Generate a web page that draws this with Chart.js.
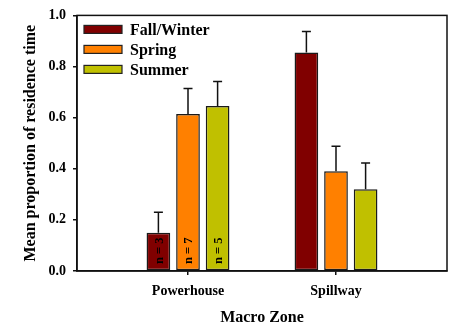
<!DOCTYPE html>
<html>
<head>
<meta charset="utf-8">
<script src="https://cdn.jsdelivr.net/npm/chart.js@4/dist/chart.umd.min.js"></script>
<style>
  html, body { margin: 0; padding: 0; background: #ffffff; }
  canvas { display: block; }
</style>
</head>
<body>
<canvas id="c" width="450" height="328"></canvas>
<script>
// ---- data ----
const zones = ['Powerhouse', 'Spillway'];
const zonePositions = [1, 2];
const seriesNames = ['Fall/Winter', 'Spring', 'Summer'];
const fallWinter = [0.15, 0.855];
const fallWinterErr = [0.08, 0.082];
const spring = [0.614, 0.39];
const springErr = [0.10, 0.098];
const summer = [0.646, 0.32];
const summerErr = [0.095, 0.103];
const powerhouseN = [3, 7, 5];
const yTicks = [0, 0.2, 0.4, 0.6, 0.8, 1.0];

const colors = ['#800000', '#ff8000', '#c0c000'];
const FONT = "'Liberation Serif', 'Times New Roman', serif";

const seriesVals = [fallWinter, spring, summer];
const seriesErrs = [fallWinterErr, springErr, summerErr];

const datasets = seriesNames.map((name, s) => ({
  label: name,
  data: zonePositions.map((x, i) => ({ x: x, y: seriesVals[s][i] })),
  errors: seriesErrs[s],
  backgroundColor: colors[s],
  borderColor: '#1a1a1a',
  borderWidth: 1.5,
  borderSkipped: false,
  categoryPercentage: 0.6,
  barPercentage: 0.8
}));

const extras = {
  id: 'extras',
  afterDatasetsDraw(chart) {
    const ctx = chart.ctx;
    const y = chart.scales.y;
    // error bars
    ctx.save();
    ctx.strokeStyle = '#111';
    ctx.lineWidth = 1.5;
    chart.data.datasets.forEach((ds, di) => {
      const meta = chart.getDatasetMeta(di);
      meta.data.forEach((bar, i) => {
        const v = ds.data[i].y;
        const top = y.getPixelForValue(v + ds.errors[i]);
        ctx.beginPath();
        ctx.moveTo(bar.x, bar.y);
        ctx.lineTo(bar.x, top);
        ctx.moveTo(bar.x - 4.5, top);
        ctx.lineTo(bar.x + 4.5, top);
        ctx.stroke();
      });
    });
    // n labels in Powerhouse bars
    ctx.fillStyle = '#000';
    ctx.font = 'bold 12.5px ' + FONT;
    ctx.textAlign = 'left';
    ctx.textBaseline = 'middle';
    chart.data.datasets.forEach((ds, di) => {
      const bar = chart.getDatasetMeta(di).data[0];
      ctx.save();
      ctx.translate(bar.x + 1, y.getPixelForValue(0) - 7);
      ctx.rotate(-Math.PI / 2);
      ctx.fillText('n = ' + powerhouseN[di], 0, 0);
      ctx.restore();
    });
    ctx.restore();
  },
  afterDraw(chart) {
    const ctx = chart.ctx;
    const a = chart.chartArea;
    ctx.save();
    // frame
    ctx.strokeStyle = '#111';
    ctx.lineWidth = 1.5;
    ctx.strokeRect(a.left, a.top, a.right - a.left, a.bottom - a.top);
    // legend
    ctx.font = 'bold 16px ' + FONT;
    ctx.textAlign = 'left';
    ctx.textBaseline = 'middle';
    chart.data.datasets.forEach((ds, i) => {
      const cy = a.top + 14 + i * 20;
      const sx = a.left + 7;
      ctx.fillStyle = ds.backgroundColor;
      ctx.fillRect(sx, cy - 4, 38, 8);
      ctx.lineWidth = 1.2;
      ctx.strokeStyle = '#222';
      ctx.strokeRect(sx, cy - 4, 38, 8);
      ctx.fillStyle = '#000';
      ctx.fillText(ds.label, sx + 46, cy + 1);
    });
    ctx.restore();
  }
};

new Chart(document.getElementById('c'), {
  type: 'bar',
  data: { datasets: datasets },
  options: {
    responsive: false,
    devicePixelRatio: 1,
    animation: false,
    layout: { padding: { top: 11, right: 3, left: 0, bottom: 0 } },
    plugins: { legend: { display: false }, tooltip: { enabled: false } },
    scales: {
      x: {
        type: 'linear',
        min: 0.25,
        max: 2.75,
        offset: false,
        afterBuildTicks(scale) { scale.ticks = zonePositions.map(v => ({ value: v })); },
        afterFit(scale) { scale.height = 57; },
        grid: { display: true, offset: false, drawOnChartArea: false, drawTicks: true, tickLength: 4, color: '#111', lineWidth: 1.5 },
        border: { display: true, color: '#111', width: 1.5 },
        ticks: {
          padding: 8,
          color: '#000',
          font: { family: FONT, size: 14, weight: 'bold' },
          callback: (v) => zones[zonePositions.indexOf(v)] || ''
        },
        title: {
          display: true,
          text: 'Macro Zone',
          color: '#000',
          font: { family: FONT, size: 16, weight: 'bold' },
          padding: { top: 0, bottom: 1 }
        }
      },
      y: {
        min: 0,
        max: 1,
        afterBuildTicks(scale) { scale.ticks = yTicks.map(v => ({ value: v })); },
        afterFit(scale) { scale.width = 77; },
        grid: { display: true, drawOnChartArea: false, drawTicks: true, tickLength: 4, color: '#111', lineWidth: 1.5 },
        border: { display: true, color: '#111', width: 1.5 },
        ticks: {
          padding: 7,
          color: '#000',
          font: { family: FONT, size: 14, weight: 'bold' },
          callback: (v) => Number(v).toFixed(1)
        },
        title: {
          display: true,
          text: 'Mean proportion of residence time',
          color: '#000',
          font: { family: FONT, size: 16, weight: 'bold' },
          padding: { top: 21, bottom: 0 }
        }
      }
    }
  },
  plugins: [extras]
});
</script>
</body>
</html>
